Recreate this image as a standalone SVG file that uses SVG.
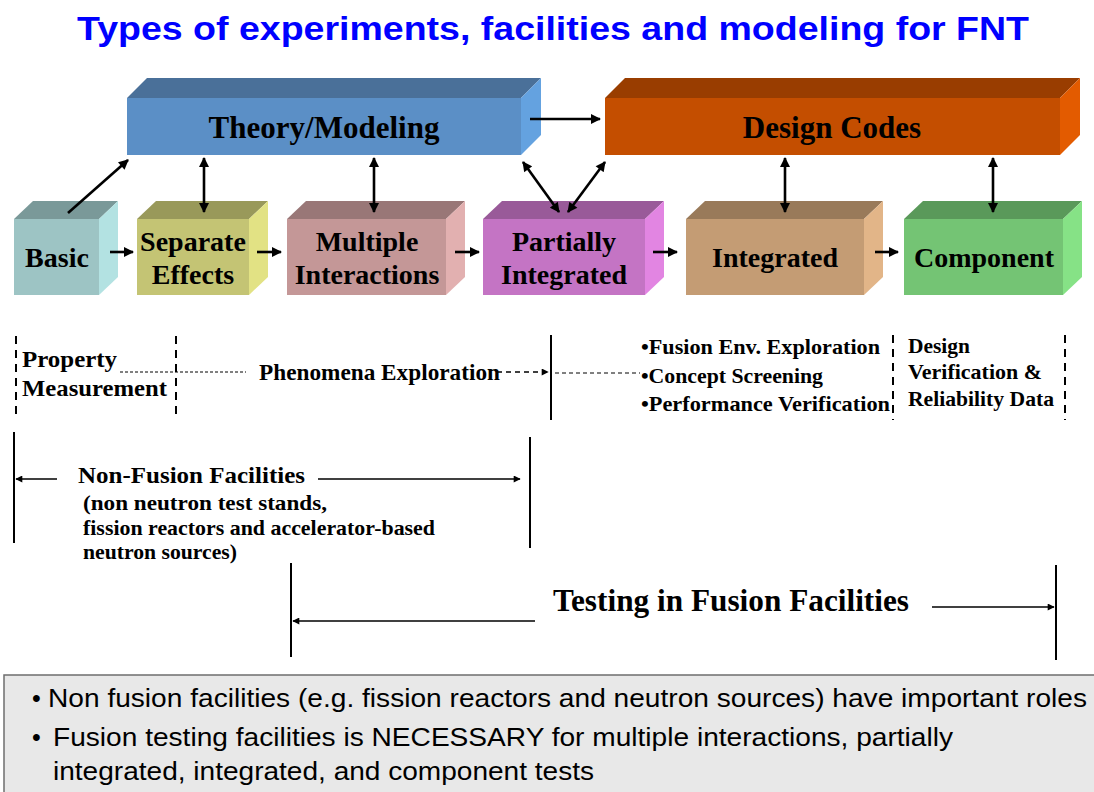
<svg xmlns="http://www.w3.org/2000/svg" width="1094" height="792" viewBox="0 0 1094 792">
<style>
.serif{font-family:"Liberation Serif","Times New Roman",serif;font-weight:bold;fill:#000}
.lbl{font-size:28px;text-anchor:middle}
.big{font-size:31px;text-anchor:middle}
.mid{font-size:23px}
.sm{font-size:21px}
.conn{stroke:#000;stroke-width:2.6;fill:none}
.thin{stroke:#000;stroke-width:1.6;fill:none}
.vsolid{stroke:#000;stroke-width:2;fill:none}
.vdash{stroke:#000;stroke-width:2;stroke-dasharray:8,6;fill:none}
</style>
<defs>
<marker id="ah" viewBox="0 0 10 10" refX="9" refY="5" markerWidth="11" markerHeight="10" markerUnits="userSpaceOnUse" orient="auto-start-reverse"><path d="M0,0 L10,5 L0,10 z" fill="#000"/></marker>
<marker id="ahs" viewBox="0 0 10 10" refX="9" refY="5" markerWidth="8" markerHeight="7" markerUnits="userSpaceOnUse" orient="auto-start-reverse"><path d="M0,0 L10,5 L0,10 z" fill="#000"/></marker>
</defs>
<rect width="1094" height="792" fill="#fff"/>
<text x="77" y="40" font-family="Liberation Sans, Arial, sans-serif" font-weight="bold" font-size="33" fill="#0000ff" textLength="952" lengthAdjust="spacingAndGlyphs">Types of experiments, facilities and modeling for FNT</text>

<g id="theory">
<polygon points="127,98 147,78 541,78 521,98" fill="#4a7099"/>
<polygon points="521,98 541,78 541,135 521,155" fill="#64a2e0"/>
<rect x="127" y="98" width="394" height="57" fill="#5b8fc6"/>
<text class="serif big" x="324" y="138">Theory/Modeling</text>
</g>
<g id="design">
<polygon points="605,98 625,78 1080,78 1060,98" fill="#993d00"/>
<polygon points="1060,98 1080,78 1080,135 1060,155" fill="#e35b00"/>
<rect x="605" y="98" width="455" height="57" fill="#c44e00"/>
<text class="serif big" x="832" y="138">Design Codes</text>
</g>

<g id="basic">
<polygon points="14,219 33,201 118,201 99,219" fill="#7a9999"/>
<polygon points="99,219 118,201 118,277 99,295" fill="#b3e2e2"/>
<rect x="14" y="219" width="85" height="76" fill="#9dc4c4"/>
<text class="serif lbl" x="57" y="267">Basic</text>
</g>
<g id="separate">
<polygon points="137,219 156,201 268,201 249,219" fill="#99995a"/>
<polygon points="249,219 268,201 268,277 249,295" fill="#e2e284"/>
<rect x="137" y="219" width="112" height="76" fill="#c4c474"/>
<text class="serif lbl" x="193" y="251">Separate</text>
<text class="serif lbl" x="193" y="284">Effects</text>
</g>
<g id="multiple">
<polygon points="287,219 306,201 465,201 446,219" fill="#997777"/>
<polygon points="446,219 465,201 465,277 446,295" fill="#e2b0b0"/>
<rect x="287" y="219" width="159" height="76" fill="#c49797"/>
<text class="serif lbl" x="367" y="251">Multiple</text>
<text class="serif lbl" x="367" y="284">Interactions</text>
</g>
<g id="partially">
<polygon points="483,219 502,201 664,201 645,219" fill="#995a99"/>
<polygon points="645,219 664,201 664,277 645,295" fill="#e285e2"/>
<rect x="483" y="219" width="162" height="76" fill="#c474c4"/>
<text class="serif lbl" x="564" y="251">Partially</text>
<text class="serif lbl" x="564" y="284">Integrated</text>
</g>
<g id="integrated">
<polygon points="686,219 705,201 883,201 864,219" fill="#997a5a"/>
<polygon points="864,219 883,201 883,277 864,295" fill="#e2b588"/>
<rect x="686" y="219" width="178" height="76" fill="#c49c74"/>
<text class="serif lbl" x="775" y="267">Integrated</text>
</g>
<g id="component">
<polygon points="904,219 923,201 1082,201 1063,219" fill="#5a995a"/>
<polygon points="1063,219 1082,201 1082,277 1063,295" fill="#86e286"/>
<rect x="904" y="219" width="159" height="76" fill="#74c474"/>
<text class="serif lbl" x="984" y="267">Component</text>
</g>

<g id="connectors">
<line class="conn" x1="530" y1="119" x2="600" y2="119" marker-end="url(#ah)"/>
<line class="conn" x1="68" y1="213" x2="128" y2="160" marker-end="url(#ah)"/>
<line class="conn" x1="204" y1="158" x2="204" y2="212" marker-start="url(#ah)" marker-end="url(#ah)"/>
<line class="conn" x1="374" y1="158" x2="374" y2="212" marker-start="url(#ah)" marker-end="url(#ah)"/>
<line class="conn" x1="523" y1="162" x2="559" y2="212" marker-start="url(#ah)" marker-end="url(#ah)"/>
<line class="conn" x1="605" y1="162" x2="568" y2="212" marker-start="url(#ah)" marker-end="url(#ah)"/>
<line class="conn" x1="785" y1="158" x2="785" y2="212" marker-start="url(#ah)" marker-end="url(#ah)"/>
<line class="conn" x1="993" y1="158" x2="993" y2="212" marker-start="url(#ah)" marker-end="url(#ah)"/>
<line class="conn" x1="110" y1="252" x2="133" y2="252" marker-end="url(#ah)"/>
<line class="conn" x1="257" y1="252" x2="281" y2="252" marker-end="url(#ah)"/>
<line class="conn" x1="455" y1="252" x2="479" y2="252" marker-end="url(#ah)"/>
<line class="conn" x1="653" y1="252" x2="677" y2="252" marker-end="url(#ah)"/>
<line class="conn" x1="875" y1="252" x2="898" y2="252" marker-end="url(#ah)"/>
</g>

<g id="phases">
<line class="vdash" x1="16" y1="336" x2="16" y2="420"/>
<line class="vdash" x1="176" y1="336" x2="176" y2="420"/>
<line class="vsolid" x1="551" y1="335" x2="551" y2="420"/>
<line class="vdash" x1="893" y1="335" x2="893" y2="420"/>
<line class="vdash" x1="1065" y1="335" x2="1065" y2="420"/>
<text class="serif" font-size="24" x="22" y="367" textLength="95" lengthAdjust="spacingAndGlyphs">Property</text>
<text class="serif" font-size="24" x="22" y="396" textLength="145" lengthAdjust="spacingAndGlyphs">Measurement</text>
<line x1="120" y1="372" x2="246" y2="372" stroke="#000" stroke-width="1" stroke-dasharray="3,2"/>
<text class="serif mid" x="259" y="380" textLength="241" lengthAdjust="spacingAndGlyphs">Phenomena Exploration</text>
<line x1="497" y1="372" x2="548" y2="372" stroke="#000" stroke-width="1.3" stroke-dasharray="5,4" marker-end="url(#ahs)"/>
<line x1="555" y1="373" x2="640" y2="373" stroke="#000" stroke-width="1" stroke-dasharray="4,3"/>
<text class="serif sm" x="641" y="354" textLength="239" lengthAdjust="spacingAndGlyphs">•Fusion Env. Exploration</text>
<text class="serif sm" x="641" y="383" textLength="182" lengthAdjust="spacingAndGlyphs">•Concept Screening</text>
<text class="serif sm" x="641" y="411" textLength="249" lengthAdjust="spacingAndGlyphs">•Performance Verification</text>
<text class="serif sm" x="908" y="353" textLength="62" lengthAdjust="spacingAndGlyphs">Design</text>
<text class="serif sm" x="908" y="379" textLength="134" lengthAdjust="spacingAndGlyphs">Verification &amp;</text>
<text class="serif sm" x="908" y="406" textLength="146" lengthAdjust="spacingAndGlyphs">Reliability Data</text>
</g>

<g id="nonfusion">
<line class="vsolid" x1="14" y1="432" x2="14" y2="543"/>
<line class="vsolid" x1="530" y1="437" x2="530" y2="548"/>
<line class="thin" x1="57" y1="479" x2="16" y2="479" marker-end="url(#ahs)"/>
<text class="serif" font-size="24" x="78" y="483" textLength="227" lengthAdjust="spacingAndGlyphs">Non-Fusion Facilities</text>
<line class="thin" x1="318" y1="479" x2="520" y2="479" marker-end="url(#ahs)"/>
<text class="serif sm" x="83" y="510" textLength="244" lengthAdjust="spacingAndGlyphs">(non neutron test stands,</text>
<text class="serif sm" x="83" y="535" textLength="352" lengthAdjust="spacingAndGlyphs">fission reactors and accelerator-based</text>
<text class="serif sm" x="83" y="559" textLength="154" lengthAdjust="spacingAndGlyphs">neutron sources)</text>
</g>

<g id="fusion">
<line class="vsolid" x1="291" y1="563" x2="291" y2="657"/>
<line class="vsolid" x1="1056" y1="565" x2="1056" y2="660"/>
<line class="thin" x1="535" y1="621" x2="293" y2="621" marker-end="url(#ahs)"/>
<text class="serif" font-size="31" x="553" y="611" textLength="356" lengthAdjust="spacingAndGlyphs">Testing in Fusion Facilities</text>
<line class="thin" x1="932" y1="607" x2="1054" y2="607" marker-end="url(#ahs)"/>
</g>

<g id="notes">
<rect x="4" y="675" width="1100" height="130" fill="#e8e8e8" stroke="#6e6e6e" stroke-width="1.5"/>
<g font-family="Liberation Sans, Arial, sans-serif" font-size="25" fill="#000">
<text x="32" y="707">•</text>
<text x="48" y="707" textLength="1039" lengthAdjust="spacingAndGlyphs">Non fusion facilities (e.g. fission reactors and neutron sources) have important roles</text>
<text x="32" y="746">•</text>
<text x="53" y="746" textLength="900" lengthAdjust="spacingAndGlyphs">Fusion testing facilities is NECESSARY for multiple interactions, partially</text>
<text x="53" y="780" textLength="541" lengthAdjust="spacingAndGlyphs">integrated, integrated, and component tests</text>
</g>
</g>
</svg>
